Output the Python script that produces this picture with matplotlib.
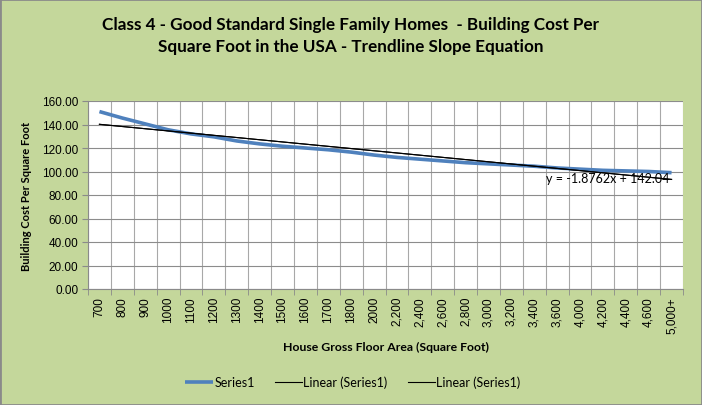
import matplotlib.pyplot as plt
import numpy as np
from matplotlib.patches import Rectangle

plt.rcParams['font.family'] = ['Lato', 'DejaVu Sans']

categories = ['700', '800', '900', '1000', '1100', '1200', '1300', '1400', '1500',
              '1600', '1700', '1800', '2000', '2,200', '2,400', '2,600', '2,800',
              '3,000', '3,200', '3,400', '3,600', '4,000', '4,200', '4,400',
              '4,600', '5,000+']
cost = [151, 145.5, 140.5, 135.5, 132, 129.5, 126, 123.5, 121.5, 120, 118.5,
        116.5, 114, 112, 110.5, 109, 107.5, 106.5, 105.5, 104.5, 103, 102,
        101, 100.5, 100, 99]
slope = -1.8762
intercept = 142.04

bg = '#c4d79b'
fig = plt.figure(figsize=(7.02, 4.06), dpi=100, facecolor=bg)
fig.patches.append(Rectangle((0, 0), 1, 1, transform=fig.transFigure,
                             fill=False, edgecolor='#8a8a8a', linewidth=2))

ax = fig.add_axes([88/702, 1 - 290/406, 595/702, 188/406])
ax.set_facecolor('white')

x = np.arange(len(categories))
trend = slope * (x + 1) + intercept

ax.plot(x, cost, color='#4f81bd', linewidth=2.6, label='Series1',
        solid_capstyle='butt')
ax.plot(x, trend, color='black', linewidth=0.8, label='Linear (Series1)')
ax.plot(x, trend, color='black', linewidth=0.8, label='Linear (Series1)')

ax.set_xlim(-0.5, len(categories) - 0.5)
ax.set_ylim(0, 160)
ax.set_yticks(np.arange(0, 161, 20))
ax.set_yticklabels(['%.2f' % v for v in np.arange(0, 161, 20)],
                   family='Liberation Sans', fontsize=8.5)
ax.set_xticks(x)
ax.set_xticklabels(categories, rotation=90, family='Liberation Sans',
                   fontsize=8.5)
ax.set_xticks(np.arange(-0.5, len(categories)), minor=True)
ax.tick_params(axis='x', which='major', length=0, pad=5)
ax.tick_params(axis='x', which='minor', length=4, color='#8a8a8a')
ax.tick_params(axis='y', length=4, color='#8a8a8a', pad=3)

ax.grid(True, axis='y', color='#8c8c8c', linewidth=0.8)
ax.grid(True, axis='x', which='minor', color='#a8a8a8', linewidth=0.8)
ax.set_axisbelow(True)
for side in ['top', 'right']:
    ax.spines[side].set_visible(False)
for side in ['left', 'bottom']:
    ax.spines[side].set_color('#8a8a8a')

ax.text(19.5, 99.5, 'y = -1.8762x + 142.04', fontsize=9, va='top', ha='left')

ax.set_ylabel('Building Cost Per Square Foot', fontsize=8, fontweight='bold',
              labelpad=7)
fig.text(385.5/702, 1 - 347/406, 'House Gross Floor Area (Square Foot)',
         fontsize=8.8, fontweight='bold', ha='center', va='center')

fig.text(351/702, 1 - 36/406,
         'Class 4 - Good Standard Single Family Homes  - Building Cost Per\n'
         'Square Foot in the USA - Trendline Slope Equation',
         fontsize=12.3, fontweight='bold', ha='center', va='center',
         linespacing=1.5)

fig.legend(loc='center', bbox_to_anchor=(353/702, 1 - 383/406), ncol=3,
           frameon=False, fontsize=9, handlelength=2.2, columnspacing=1.6,
           handletextpad=0.1)

fig.savefig('out.png', dpi=100, facecolor=bg)
